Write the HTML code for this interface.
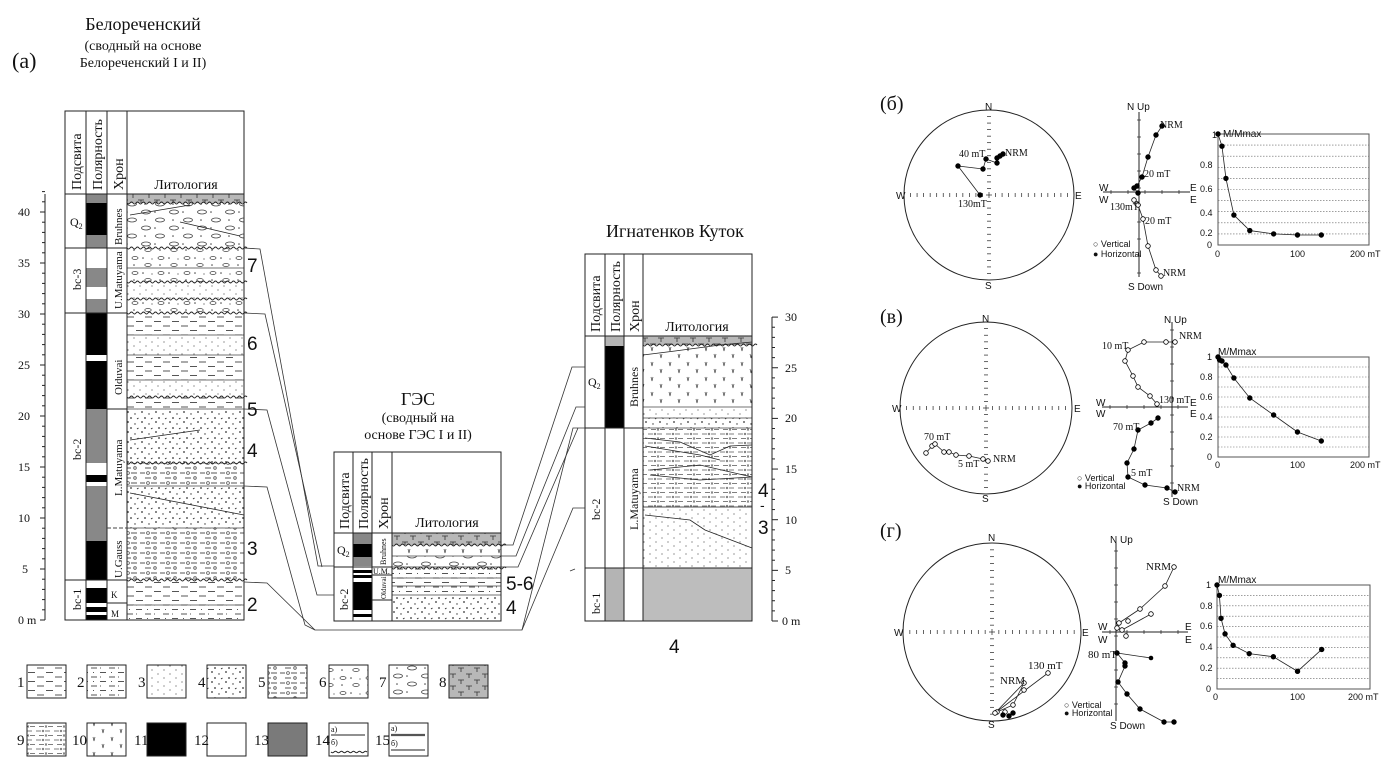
<!DOCTYPE html>
<html><head><meta charset="utf-8">
<style>
html,body{margin:0;padding:0;background:#fff;}
svg{display:block;}
.s{font-family:"Liberation Serif","DejaVu Serif",serif;fill:#111;}
.a{font-family:"Liberation Sans","DejaVu Sans",sans-serif;fill:#111;}
</style></head><body>
<svg id="svg" xmlns="http://www.w3.org/2000/svg" width="1388" height="779" viewBox="0 0 1388 779">
<defs>
<pattern id="p1" width="18" height="9" patternUnits="userSpaceOnUse"><path d="M1 2H8M10 6.5H17" stroke="#555" stroke-width="1"/></pattern>
<pattern id="p2" width="18" height="9" patternUnits="userSpaceOnUse"><path d="M1 2H7M10 2H11M10 6.5H16M3 6.5H4" stroke="#555" stroke-width="1"/></pattern>
<pattern id="p3" width="12" height="8" patternUnits="userSpaceOnUse"><circle cx="2" cy="2" r=".6" fill="#555"/><circle cx="8" cy="6" r=".6" fill="#555"/></pattern>
<pattern id="p4" width="14" height="10" patternUnits="userSpaceOnUse"><circle cx="2" cy="2" r=".9" fill="#333"/><circle cx="9" cy="4" r=".7" fill="#333"/><circle cx="5" cy="8" r=".9" fill="#333"/><path d="M11 9l1.5-1" stroke="#333"/></pattern>
<pattern id="p5" width="20" height="10" patternUnits="userSpaceOnUse"><path d="M0 3H5M11 3H17M5 8H11" stroke="#555"/><circle cx="8" cy="3" r="1.4" fill="none" stroke="#555" stroke-width=".8"/><circle cx="15" cy="8" r="1.3" fill="none" stroke="#555" stroke-width=".8"/></pattern>
<pattern id="p6" width="26" height="15" patternUnits="userSpaceOnUse"><ellipse cx="5" cy="3" rx="3" ry="1.5" fill="none" stroke="#444" stroke-width=".8"/><ellipse cx="18" cy="10" rx="3.2" ry="1.5" fill="none" stroke="#444" stroke-width=".8"/><circle cx="13" cy="3" r=".8" fill="#444"/><circle cx="4" cy="10" r=".8" fill="#444"/><circle cx="22" cy="4" r=".6" fill="#444"/></pattern>
<pattern id="p7" width="28" height="16" patternUnits="userSpaceOnUse"><ellipse cx="6" cy="4" rx="4.5" ry="2" fill="none" stroke="#444" stroke-width=".8"/><ellipse cx="20" cy="12" rx="4.5" ry="2" fill="none" stroke="#444" stroke-width=".8"/><circle cx="15" cy="4" r=".8" fill="#444"/><circle cx="5" cy="12" r=".8" fill="#444"/></pattern>
<pattern id="p8" width="16" height="12" patternUnits="userSpaceOnUse"><rect width="16" height="12" fill="#b8b8b8"/><path d="M2 2H8M5 2V6M10 8H16M13 8V12" stroke="#333" stroke-width=".8"/></pattern>
<pattern id="p9" width="18" height="9" patternUnits="userSpaceOnUse"><path d="M0 2H5M9 2H14M3 6.5H8M12 6.5H17" stroke="#555" stroke-width=".8"/><path d="M6 1l2 2M8 1l-2 2M9 5.5l2 2M11 5.5l-2 2" stroke="#555" stroke-width=".6"/></pattern>
<pattern id="p10" width="18" height="15" patternUnits="userSpaceOnUse"><path d="M3 2l1 4 1-4M12 9l1 4 1-4" fill="none" stroke="#444" stroke-width=".7"/></pattern>
</defs>

<text class="s" x="12" y="68" font-size="22">(a)</text>
<text class="s" x="143" y="30" font-size="18" text-anchor="middle">Белореченский</text>
<text class="s" x="143" y="50" font-size="14" text-anchor="middle">(сводный на основе</text>
<text class="s" x="143" y="67" font-size="14" text-anchor="middle">Белореченский I и II)</text>
<text class="s" x="418" y="405" font-size="18" text-anchor="middle">ГЭС</text>
<text class="s" x="418" y="422" font-size="14" text-anchor="middle">(сводный на</text>
<text class="s" x="418" y="439" font-size="14" text-anchor="middle">основе ГЭС I и II)</text>
<text class="s" x="675" y="237" font-size="18" text-anchor="middle">Игнатенков Куток</text>

<g id="g"></g>

<g class="s" font-size="14">
<text transform="translate(81,190) rotate(-90)">Подсвита</text>
<text transform="translate(102,190) rotate(-90)">Полярность</text>
<text transform="translate(123,190) rotate(-90)">Хрон</text>
<text x="186" y="189" text-anchor="middle">Литология</text>
<text transform="translate(349,529) rotate(-90)">Подсвита</text>
<text transform="translate(368,529) rotate(-90)">Полярность</text>
<text transform="translate(388,529) rotate(-90)">Хрон</text>
<text x="447" y="527" text-anchor="middle">Литология</text>
<text transform="translate(600,332) rotate(-90)">Подсвита</text>
<text transform="translate(620,332) rotate(-90)">Полярность</text>
<text transform="translate(639,332) rotate(-90)">Хрон</text>
<text x="697" y="331" text-anchor="middle">Литология</text>
</g>

<g class="s" font-size="12">
<text x="70" y="226">Q<tspan font-size="8" dy="3">2</tspan></text>
<text transform="translate(81,290) rotate(-90)">bc-3</text>
<text transform="translate(81,460) rotate(-90)">bc-2</text>
<text transform="translate(81,610) rotate(-90)">bc-1</text>
<text transform="translate(122,245) rotate(-90)" font-size="11">Bruhnes</text>
<text transform="translate(122,309) rotate(-90)" font-size="11">U.Matuyama</text>
<text transform="translate(122,395) rotate(-90)" font-size="11">Olduvai</text>
<text transform="translate(122,496) rotate(-90)" font-size="11">L.Matuyama</text>
<text transform="translate(122,578) rotate(-90)" font-size="11">U.Gauss</text>
<text x="111" y="598" font-size="9">K</text>
<text x="111" y="617" font-size="9">M</text>
<text x="337" y="554">Q<tspan font-size="8" dy="3">2</tspan></text>
<text transform="translate(348,610) rotate(-90)">bc-2</text>
<text transform="translate(386,565) rotate(-90)" font-size="8">Bruhnes</text>
<text x="373" y="574" font-size="8">U.M.</text>
<text transform="translate(386,599) rotate(-90)" font-size="7">Olduvai</text>
<text x="588" y="386">Q<tspan font-size="8" dy="3">2</tspan></text>
<text transform="translate(600,520) rotate(-90)">bc-2</text>
<text transform="translate(600,614) rotate(-90)">bc-1</text>
<text transform="translate(638,407) rotate(-90)">Bruhnes</text>
<text transform="translate(638,530) rotate(-90)">L.Matuyama</text>
</g>

<g class="a" font-size="19">
<text x="247" y="272">7</text><text x="247" y="350">6</text><text x="247" y="416">5</text>
<text x="247" y="457">4</text><text x="247" y="555">3</text><text x="247" y="611">2</text>
<text x="506" y="590">5-6</text><text x="506" y="614">4</text>
<text x="758" y="497">4</text><text x="760" y="510" font-size="14">-</text><text x="758" y="534">3</text>
<text x="669" y="653">4</text>
</g>

<g class="s" font-size="15">
<text x="17" y="687">1</text><text x="77" y="687">2</text><text x="138" y="687">3</text><text x="198" y="687">4</text>
<text x="258" y="687">5</text><text x="319" y="687">6</text><text x="379" y="687">7</text><text x="439" y="687">8</text>
<text x="17" y="745">9</text><text x="72" y="745">10</text><text x="134" y="745">11</text><text x="194" y="745">12</text>
<text x="254" y="745">13</text><text x="315" y="745">14</text><text x="375" y="745">15</text>
<text x="331" y="732" font-size="8">а)</text><text x="331" y="745" font-size="8">б)</text>
<text x="391" y="731" font-size="8">а)</text><text x="391" y="746" font-size="8">б)</text>
</g>

<g class="s" font-size="20">
<text x="880" y="110">(б)</text><text x="880" y="323">(в)</text><text x="880" y="537">(г)</text>
</g>
<g class="a" font-size="10">
<text x="985" y="110">N</text><text x="985" y="289">S</text><text x="896" y="199">W</text><text x="1075" y="199">E</text>
<text x="1127" y="110">N Up</text><text x="1128" y="290">S Down</text>
<text x="1099" y="191">W</text><text x="1099" y="203">W</text><text x="1190" y="191">E</text><text x="1190" y="203">E</text>
<text x="1223" y="137">M/Mmax</text>
<text x="1212" y="138" font-size="9">1</text><text x="1200" y="168" font-size="9">0.8</text><text x="1200" y="192" font-size="9">0.6</text><text x="1200" y="216" font-size="9">0.4</text><text x="1200" y="236" font-size="9">0.2</text><text x="1207" y="248" font-size="9">0</text>
<text x="1215" y="257" font-size="9">0</text><text x="1290" y="257" font-size="9">100</text><text x="1350" y="257" font-size="9">200 mT</text>
<text x="1093" y="247" font-size="9">○ Vertical</text><text x="1093" y="257" font-size="9">● Horizontal</text>
<text x="982" y="322">N</text><text x="982" y="502">S</text><text x="892" y="412">W</text><text x="1074" y="412">E</text>
<text x="1164" y="323">N Up</text><text x="1163" y="505">S Down</text>
<text x="1096" y="406">W</text><text x="1096" y="417">W</text><text x="1190" y="406">E</text><text x="1190" y="417">E</text>
<text x="1218" y="355">M/Mmax</text>
<text x="1207" y="360" font-size="9">1</text><text x="1200" y="380" font-size="9">0.8</text><text x="1200" y="400" font-size="9">0.6</text><text x="1200" y="420" font-size="9">0.4</text><text x="1200" y="440" font-size="9">0.2</text><text x="1207" y="460" font-size="9">0</text>
<text x="1215" y="468" font-size="9">0</text><text x="1290" y="468" font-size="9">100</text><text x="1350" y="468" font-size="9">200 mT</text>
<text x="1077" y="481" font-size="9">○ Vertical</text><text x="1077" y="489" font-size="9">● Horizontal</text>
<text x="988" y="541">N</text><text x="988" y="728">S</text><text x="894" y="636">W</text><text x="1082" y="636">E</text>
<text x="1110" y="543">N Up</text><text x="1110" y="729">S Down</text>
<text x="1098" y="630">W</text><text x="1098" y="643">W</text><text x="1185" y="630">E</text><text x="1185" y="643">E</text>
<text x="1218" y="583">M/Mmax</text>
<text x="1206" y="588" font-size="9">1</text><text x="1200" y="609" font-size="9">0.8</text><text x="1200" y="629" font-size="9">0.6</text><text x="1200" y="650" font-size="9">0.4</text><text x="1200" y="671" font-size="9">0.2</text><text x="1206" y="692" font-size="9">0</text>
<text x="1213" y="700" font-size="9">0</text><text x="1290" y="700" font-size="9">100</text><text x="1348" y="700" font-size="9">200 mT</text>
<text x="1064" y="708" font-size="9">○ Vertical</text><text x="1064" y="716" font-size="9">● Horizontal</text>
</g>
<g class="s" font-size="10">
<text x="959" y="157">40 mT</text><text x="1005" y="156">NRM</text><text x="958" y="207">130mT</text>
<text x="1160" y="128">NRM</text><text x="1144" y="177">20 mT</text><text x="1110" y="210">130mT</text><text x="1145" y="224">20 mT</text><text x="1163" y="276">NRM</text>
<text x="924" y="440">70 mT</text><text x="958" y="467">5 mT</text><text x="993" y="462">NRM</text>
<text x="1102" y="349">10 mT</text><text x="1179" y="339">NRM</text><text x="1159" y="403">130 mT</text><text x="1113" y="430">70 mT</text><text x="1131" y="476">5 mT</text><text x="1177" y="491">NRM</text>
<text x="1028" y="669" font-size="11">130 mT</text><text x="1000" y="684" font-size="11">NRM</text>
<text x="1146" y="570" font-size="11">NRM</text><text x="1088" y="658" font-size="11">80 mT</text>
</g>
<g class="s" font-size="12">
<text x="18" y="624">0 m</text><text x="22" y="573">5</text><text x="18" y="522">10</text><text x="18" y="471">15</text><text x="18" y="420">20</text>
<text x="18" y="369">25</text><text x="18" y="318">30</text><text x="18" y="267">35</text><text x="18" y="216">40</text>
<text x="782" y="625">0 m</text><text x="785" y="574">5</text><text x="785" y="524">10</text><text x="785" y="473">15</text><text x="785" y="422">20</text><text x="785" y="372">25</text><text x="785" y="321">30</text>
</g>
</svg>
<script>
const g=document.getElementById('g');const NS='http://www.w3.org/2000/svg';
function el(t,a,p){const e=document.createElementNS(NS,t);for(const k in a)e.setAttribute(k,a[k]);(p||g).appendChild(e);return e;}
function R(x,y,w,h,f,s){el('rect',{x,y,width:w,height:h,fill:f,stroke:s||'none','stroke-width':1});}
function L(x1,y1,x2,y2,w,c,d){const a={x1,y1,x2,y2,stroke:c||'#222','stroke-width':w||1};if(d)a['stroke-dasharray']=d;el('line',a);}
function P(pts,w,c){el('polyline',{points:pts.map(p=>p.join(',')).join(' '),fill:'none',stroke:c||'#222','stroke-width':w||1});}
function wave(x1,x2,y,a){let d='M'+x1+' '+y;for(let x=x1;x<x2;x+=6){d+=' Q'+(x+1.5)+' '+(y+(a||2))+' '+(x+3)+' '+y+' Q'+(x+4.5)+' '+(y-(a||2))+' '+(x+6)+' '+y;}el('path',{d,fill:'none',stroke:'#222','stroke-width':1});}
function layers(x1,x2,arr){arr.forEach(a=>{R(x1,a[0],x2-x1,a[1]-a[0],'url(#'+a[2]+')');});arr.forEach(a=>{if(a[3]=='w')wave(x1,x2,a[1]);else L(x1,a[1],x2,a[1],0.8,'#444');});}
function pol(x,w,arr){arr.forEach(a=>R(x,a[0],w,a[1]-a[0],a[2]=='b'?'#000':a[2]=='g'?'#888':a[2]=='l'?'#b4b4b4':'#fff'));}

pol(86,21,[[194,203,'g'],[203,235,'b'],[235,248,'g'],[248,268,'w'],[268,287,'g'],[287,299,'w'],[299,313,'g'],[313,355,'b'],[355,361,'w'],[361,409,'b'],[409,463,'g'],[463,475,'w'],[475,482,'b'],[482,486,'w'],[486,541,'g'],[541,580,'b'],[580,588,'w'],[588,603,'b'],[603,607,'w'],[607,612,'b'],[612,615,'w'],[615,620,'b']]);
layers(127,244,[[194,203,'p8','w'],[203,248,'p7','w'],[248,268,'p6'],[268,282,'p6','w'],[282,299,'p3','w'],[299,313,'p6','w'],[313,335,'p1'],[335,355,'p3'],[355,380,'p1'],[380,397,'p3','w'],[397,409,'p1'],[409,463,'p4','w'],[463,486,'p5'],[486,528,'p4'],[528,580,'p5','w'],[580,605,'p1'],[605,620,'p2']]);
P([[130,215],[190,205]],0.8);P([[180,222],[240,236]],0.8);P([[130,440],[200,430]],0.8);P([[130,493],[244,515]],0.8);
R(65,111,179,509,'none','#222');
[86,107,127].forEach(x=>L(x,111,x,620,1));L(65,194,244,194,1);
L(65,248,127,248);L(65,313,127,313);L(65,580,127,580);L(107,409,127,409);L(107,528,127,528,1,'#444','4,2');L(107,603,127,603);
L(45,194,45,620,1);for(let m=0;m<=42;m++){const y=620-10.2*m;L(m%5?42:40,y,45,y,1);}
pol(353,19,[[533,544,'g'],[544,557,'b'],[557,566,'g'],[566,570,'w'],[570,573,'b'],[573,575,'w'],[575,578,'b'],[578,582,'w'],[582,610,'b'],[610,614,'w'],[614,617,'b'],[617,621,'w']]);
layers(392,501,[[533,545,'p8','w'],[545,556,'p10'],[556,568,'p7','w'],[568,578,'p2'],[578,586,'p1'],[586,595,'p2'],[595,621,'p4']]);
R(334,452,167,169,'none','#222');[353,372,392].forEach(x=>L(x,452,x,621));L(334,533,501,533);L(334,567,392,567);L(372,575,392,575);L(372,600,392,600);
pol(605,19,[[336,346,'l'],[346,428,'b'],[428,568,'w'],[568,621,'l']]);
layers(643,752,[[336,345,'p8','w'],[345,407,'p10'],[407,418,'p3'],[418,428,'p4'],[428,507,'p9'],[507,568,'p3'],[568,621,'p1']]);
R(643,568,109,53,'#bdbdbd');
P([[643,355],[675,351],[720,345],[752,342]],0.8);P([[645,438],[680,442],[710,455],[730,446],[752,445]],0.8);P([[645,446],[700,455],[720,460]],0.8);
P([[650,470],[700,465],[752,477],[700,480],[650,475]],0.8);P([[645,515],[690,520],[705,530],[752,548]],0.8);
R(585,254,167,367,'none','#222');[605,624,643].forEach(x=>L(x,254,x,621));L(585,336,752,336);L(585,428,643,428);L(585,568,752,568);L(643,507,752,507,0.8,'#444');
L(772,317,772,621);for(let m=0;m<=30;m++){const y=621-10.13*m;L(772,y,m%5?775:778,y);}
const cl='#333';
P([[244,248],[260,249],[318,566],[334,566]],0.8,cl);
P([[244,313],[265,314],[322,567]],0.8,cl);
P([[244,409],[267,410],[317,595],[334,595]],0.8,cl);
P([[244,486],[267,487],[305,625],[315,630]],0.8,cl);
P([[244,582],[267,583],[315,630],[522,630],[573,428],[585,428]],0.8,cl);
P([[501,545],[513,545],[572,367],[585,367]],0.8,cl);
P([[501,556],[516,556],[576,407],[585,407]],0.8,cl);
P([[392,567],[518,567],[578,428]],0.8,cl);
P([[522,630],[573,508],[585,508]],0.8,cl);
L(570,571,575,569,0.8,cl);
const lx=[27,87,147,207,268,329,389,449],pats=['p1','p2','p3','p4','p5','p6','p7','p8'];
lx.forEach((x,i)=>R(x,665,39,33,'url(#'+pats[i]+')','#222'));
const l2=['p9','p10','#000','#fff','#7a7a7a','#fff','#fff'];
lx.slice(0,7).forEach((x,i)=>{const f=l2[i];R(x,723,39,33,f.startsWith('p')?'url(#'+f+')':f,'#222');});
L(331,735,365,735,1);wave(331,365,752,1.5);L(391,735,425,735,2.2,'#555');L(391,750,425,750,1);
function net(cx,cy,r){el('circle',{cx,cy,r,fill:'none',stroke:'#222','stroke-width':1});const n=13;for(let i=1;i<n;i++){const d=r*i/n;[[cx+d,cy],[cx-d,cy]].forEach(p=>L(p[0],p[1]-2,p[0],p[1]+2,0.7));[[cx,cy+d],[cx,cy-d]].forEach(p=>L(p[0]-2,p[1],p[0]+2,p[1],0.7));}L(cx-3,cy,cx+3,cy,0.7);L(cx,cy-3,cx,cy+3,0.7);}
net(989,195,85);net(986,408,86);net(992,632,89);
function dots(pts,fill,line){if(line!==false)P(pts,0.8);pts.forEach(p=>el('circle',{cx:p[0],cy:p[1],r:2.3,fill:fill?'#000':'#fff',stroke:'#000','stroke-width':0.8}));}
dots([[1003,154],[1000,156],[997,158],[997,163],[986,159],[983,169],[958,166],[980,195]],1);
dots([[926,453],[932,446],[935,444],[944,452],[949,452],[956,455],[969,456],[983,459],[988,461]],0);
P([[1048,673],[995,713],[1024,683],[1013,705],[997,712]],0.8);
dots([[1048,673],[1024,683],[1024,690],[1013,705],[997,712],[1005,712],[995,713]],0,false);
dots([[1009,716],[1013,713],[1003,715]],1,false);
function zaxes(x,y1,y2,hy,hx1,hx2){L(x,y1,x,y2,1);L(hx1,hy,hx2,hy,1);for(let y=y1+8;y<y2;y+=17)L(x-2,y,x+2,y,0.7);for(let xx=hx1+8;xx<hx2;xx+=17)L(xx,hy-2,xx,hy+2,0.7);}
zaxes(1139,112,277,192,1103,1190);zaxes(1172,322,497,407,1102,1188);zaxes(1116,543,721,632,1102,1188);
dots([[1162,126],[1156,135],[1148,157],[1142,177],[1137,186],[1134,188],[1138,193]],1);
dots([[1134,200],[1137,204],[1138,205],[1143,219],[1148,246],[1156,270],[1161,276]],0);
dots([[1175,342],[1166,342],[1144,342],[1128,350],[1125,361],[1133,376],[1138,387],[1150,396],[1157,404]],0);
dots([[1158,418],[1151,423],[1138,430],[1134,449],[1127,463],[1128,477],[1145,485],[1167,488],[1175,492]],1);
P([[1174,567],[1165,586],[1140,609],[1119,623]],0.8);P([[1151,614],[1122,630]],0.8);
dots([[1174,567],[1165,586],[1140,609],[1151,614],[1128,621],[1119,623],[1117,628],[1122,630],[1126,636]],0,false);
P([[1151,658],[1117,653]],0.8);
dots([[1117,653],[1125,663],[1125,666],[1118,682],[1127,694],[1140,709],[1164,722],[1174,722]],1);
el('circle',{cx:1151,cy:658,r:2.3,fill:'#000'});
function decay(x1,x2,yt,yb,vals){el('rect',{x:x1,y:yt,width:x2-x1,height:yb-yt,fill:'none',stroke:'#555','stroke-width':1});for(let i=1;i<10;i++){const y=yb-(yb-yt)*i/10;L(x1,y,x2,y,0.6,'#666','1.5,1.5');}const sx=(x2-x1)/190;const pts=vals.map(v=>[x1+v[0]*sx,yb-(yb-yt)*v[1]]);dots(pts,1);}
decay(1218,1369,134,245,[[0,1],[5,.89],[10,.6],[20,.27],[40,.13],[70,.1],[100,.09],[130,.09]]);
decay(1218,1369,357,457,[[0,1],[2,.97],[5,.96],[10,.92],[20,.79],[40,.59],[70,.42],[100,.25],[130,.16]]);
decay(1217,1370,585,689,[[0,1],[3,.9],[5,.68],[10,.53],[20,.42],[40,.34],[70,.31],[100,.17],[130,.38]]);
</script>
</body></html>
